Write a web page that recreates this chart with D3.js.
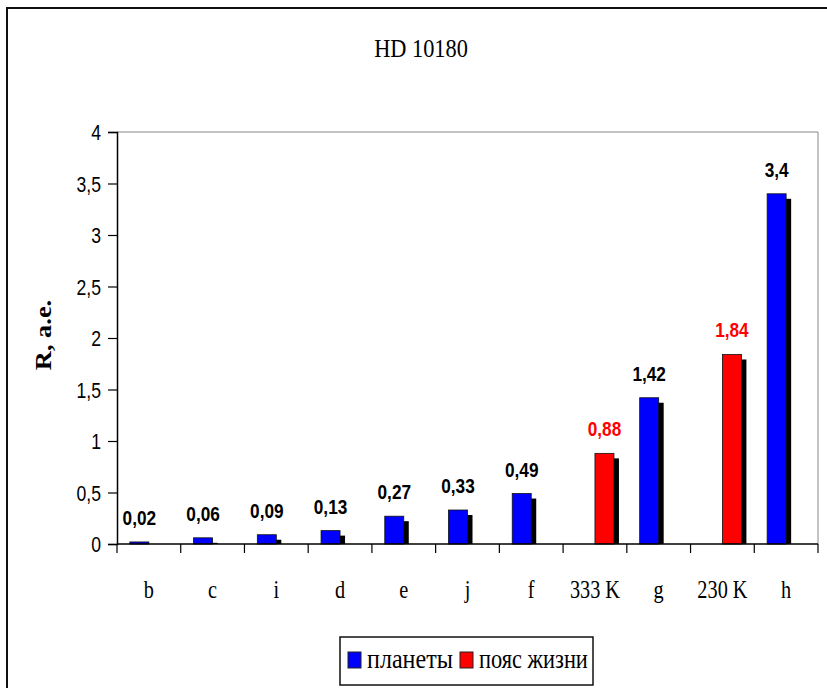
<!DOCTYPE html>
<html>
<head>
<meta charset="utf-8">
<script src="https://cdn.jsdelivr.net/npm/d3@7"></script>
<style>
  html, body { margin: 0; padding: 0; background: #fff; }
  svg { display: block; }
</style>
</head>
<body>
<svg id="chart" width="827" height="688"></svg>
<script>
// HD 10180: orbital radii of the planets and the habitable-zone limits
const categories = ["b", "c", "i", "d", "e", "j", "f", "333 K", "g", "230 K", "h"];
const planets    = [0.02, 0.06, 0.09, 0.13, 0.27, 0.33, 0.49, null, 1.42, null, 3.4];
const lifeZone   = [null, null, null, null, null, null, null, 0.88, null, 1.84, null];
const yTicks     = [0, 0.5, 1, 1.5, 2, 2.5, 3, 3.5, 4];
const seriesNames = ["планеты", "пояс жизни"];
const seriesColors = ["#0000ff", "#ff0000"];
const labelColors = ["#000000", "#ff0000"];

const svg = d3.select("#chart");
const serif = "'Liberation Serif', 'Times New Roman', serif";
const sans = "'Liberation Sans', Arial, sans-serif";

// text placed with a slight horizontal squeeze
function txt(parent, x, y, str, o) {
  const t = parent.append("text")
    .attr("transform", `translate(${x},${y})` + (o.rotate ? ` rotate(${o.rotate})` : "") + ` scale(${o.sx || 1},1)`)
    .attr("text-anchor", o.anchor || "middle")
    .attr("font-family", o.family || serif)
    .attr("font-size", o.size || 16)
    .attr("font-weight", o.weight || "normal")
    .attr("fill", o.fill || "#000")
    .text(str);
  return t;
}

// outer frame
svg.append("rect").attr("x", 7).attr("y", 8).attr("width", 840).attr("height", 700)
  .attr("fill", "none").attr("stroke", "#111").attr("stroke-width", 2);

const plot = { left: 117, right: 818, top: 132, bottom: 544 };

const x0 = d3.scaleBand().domain(categories).range([plot.left, plot.right]).padding(0);
const barW = 19;
const x1 = d3.scaleBand().domain(seriesNames)
  .range([x0.bandwidth() / 2 - barW, x0.bandwidth() / 2 + barW]).padding(0);
const y = d3.scaleLinear().domain([0, 4]).range([plot.bottom, plot.top]);

// plot-area border (top and right)
svg.append("path")
  .attr("d", `M${plot.left},${plot.top}H${plot.right}V${plot.bottom}`)
  .attr("fill", "none").attr("stroke", "#888").attr("stroke-width", 1);

// title
txt(svg, 421, 57, "HD 10180", { size: 26, sx: 0.86 });

// y axis
const fmt = d => String(d).replace(".", ",");
const yAxis = svg.append("g").attr("transform", `translate(${plot.left},0)`)
  .call(d3.axisLeft(y).tickValues(yTicks).tickSize(9).tickPadding(0).tickFormat(fmt));
yAxis.select(".domain").attr("stroke", "#000").attr("stroke-width", 1.5);
yAxis.selectAll(".tick line").attr("stroke", "#000").attr("stroke-width", 1.2);
yAxis.selectAll(".tick text")
  .attr("x", null).attr("dy", "0.36em")
  .attr("transform", "translate(-16,0) scale(0.8,1)")
  .attr("font-family", sans).attr("font-size", 22).attr("fill", "#000")
  .attr("text-anchor", "end");

// y-axis title
txt(svg, 51, 335, "R, а.е.", { size: 24, weight: "bold", rotate: -90, sx: 1.1 });

// bars: shadow then front face
const seriesData = [planets, lifeZone];
const bars = svg.append("g");
seriesData.forEach((vals, si) => {
  const name = seriesNames[si];
  vals.forEach((v, i) => {
    if (v == null) return;
    const bx = x0(categories[i]) + x1(name);
    const by = y(v);
    const h = y(0) - by;
    const depth = Math.min(5, h);
    bars.append("rect")
      .attr("x", bx + 5).attr("y", by + depth)
      .attr("width", barW).attr("height", Math.max(0, h - depth))
      .attr("fill", "#000");
    bars.append("rect")
      .attr("x", bx).attr("y", by)
      .attr("width", barW).attr("height", h)
      .attr("fill", seriesColors[si])
      .attr("stroke", "#111").attr("stroke-width", 0.8);
    txt(bars, bx + barW / 2, by - 17, fmt(v),
      { size: 21, family: sans, weight: "bold", sx: 0.82, fill: labelColors[si] });
  });
});

// x axis line and category boundary ticks
svg.append("line").attr("x1", plot.left).attr("x2", plot.right)
  .attr("y1", plot.bottom).attr("y2", plot.bottom)
  .attr("stroke", "#000").attr("stroke-width", 1.5);
const bounds = categories.map(c => x0(c)).concat([x0.range()[1]]);
svg.append("g").selectAll("line").data(bounds).join("line")
  .attr("x1", d => d).attr("x2", d => d)
  .attr("y1", plot.bottom).attr("y2", plot.bottom + 9)
  .attr("stroke", "#000").attr("stroke-width", 1.2);

// category labels
categories.forEach(c => {
  txt(svg, x0(c) + x0.bandwidth() / 2, 598, c, { size: 26, sx: 0.78 });
});

// legend
const lg = svg.append("g");
lg.append("rect").attr("x", 340).attr("y", 637).attr("width", 253).attr("height", 48)
  .attr("fill", "#fff").attr("stroke", "#111").attr("stroke-width", 1.5);
const legendX = [348, 460];
seriesNames.forEach((n, i) => {
  lg.append("rect").attr("x", legendX[i]).attr("y", 652).attr("width", 13).attr("height", 16)
    .attr("fill", seriesColors[i]).attr("stroke", "#222").attr("stroke-width", 1);
  txt(lg, legendX[i] + 19, 668, n, { size: 28, anchor: "start", sx: i === 0 ? 0.86 : 0.8 });
});
</script>
</body>
</html>
